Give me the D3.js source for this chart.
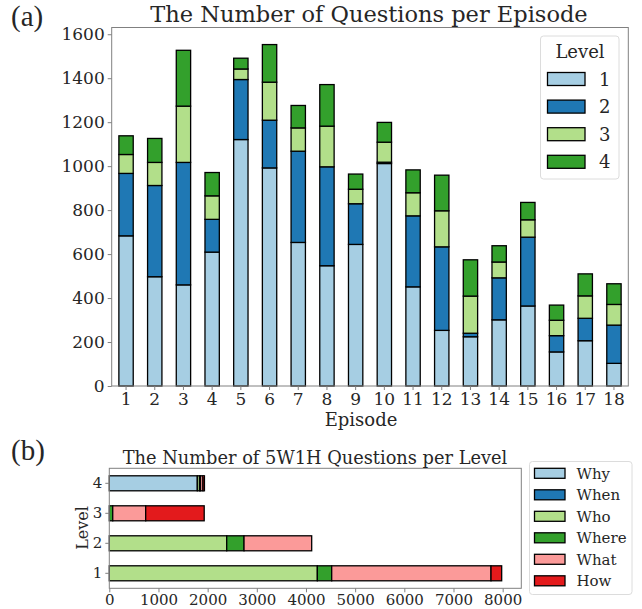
<!DOCTYPE html>
<html>
<head>
<meta charset="utf-8">
<script src="https://d3js.org/d3.v7.min.js"></script>
<style>
  body { margin: 0; background: #fff; }
  text { font-family: "DejaVu Serif", serif; fill: #262626; }
</style>
</head>
<body>
<div id="chart"></div>
<script>
// episodes and per-level question counts (top chart)
var episodes = d3.range(1, 19);
var levels = ["1", "2", "3", "4"];
var level1 = [683, 497, 460, 609, 1121, 992, 653, 547, 644, 1012, 451, 253, 224, 301, 364, 155, 206, 103];
var level2 = [284, 415, 557, 149, 273, 217, 415, 450, 185, 6, 323, 380, 16, 191, 313, 74, 102, 174];
var level3 = [86, 105, 256, 107, 48, 173, 106, 185, 66, 91, 105, 164, 169, 72, 79, 70, 102, 94];
var level4 = [85, 109, 254, 106, 49, 171, 102, 189, 69, 90, 104, 162, 165, 74, 79, 69, 100, 94];
var yTicks = [0, 200, 400, 600, 800, 1000, 1200, 1400, 1600];

// 5W1H counts per level (bottom chart)
var wTypes = ["Why", "When", "Who", "Where", "What", "How"];
var wLevels = ["1", "2", "3", "4"];
var why   = [0, 0, 0, 1790];
var when  = [0, 0, 0, 0];
var who   = [4231, 2388, 0, 45];
var where = [292, 352, 70, 20];
var what  = [3240, 1376, 670, 50];
var how   = [217, 0, 1190, 30];
var xTicks = [0, 1000, 2000, 3000, 4000, 5000, 6000, 7000, 8000];

var paired = ["#a6cee3", "#1f78b4", "#b2df8a", "#33a02c", "#fb9a99", "#e31a1c"];
var axisGrey = "#808080";

var svg = d3.select("#chart").append("svg")
  .attr("width", 642).attr("height", 609);

// ---------- top chart ----------
var rowsA = episodes.map(function(e, i) {
  return {ep: e, "1": level1[i], "2": level2[i], "3": level3[i], "4": level4[i]};
});
var stackA = d3.stack().keys(levels)(rowsA);
var maxA = d3.max(rowsA, function(d) { return d["1"] + d["2"] + d["3"] + d["4"]; });

var A = {left: 111.7, right: 628.3, top: 27.5, bottom: 386};
var xA = d3.scaleBand().domain(episodes).range([A.left, A.right])
  .paddingInner(0.5).paddingOuter(0.25);
var yA = d3.scaleLinear().domain([0, maxA * 1.05]).range([A.bottom, A.top]);
var colA = d3.scaleOrdinal().domain(levels).range(paired.slice(0, 4));

svg.append("g").selectAll("g").data(stackA).join("g")
  .attr("fill", function(d) { return colA(d.key); })
  .selectAll("rect").data(function(d) { return d; }).join("rect")
  .attr("x", function(d) { return xA(d.data.ep); })
  .attr("y", function(d) { return yA(d[1]); })
  .attr("width", xA.bandwidth())
  .attr("height", function(d) { return yA(d[0]) - yA(d[1]); })
  .attr("stroke", "#000").attr("stroke-width", 1.3);

svg.append("rect").attr("x", A.left).attr("y", A.top)
  .attr("width", A.right - A.left).attr("height", A.bottom - A.top)
  .attr("fill", "none").attr("stroke", axisGrey).attr("stroke-width", 1);

var axA = svg.append("g").attr("transform", "translate(0," + A.bottom + ")")
  .call(d3.axisBottom(xA).tickSize(4).tickPadding(3));
var ayA = svg.append("g").attr("transform", "translate(" + A.left + ",0)")
  .call(d3.axisLeft(yA).tickValues(yTicks).tickFormat(d3.format("d")).tickSize(4).tickPadding(3));
[axA, ayA].forEach(function(g) {
  g.select(".domain").remove();
  g.selectAll("line").attr("stroke", axisGrey);
  g.selectAll("text").style("font-size", "17px").attr("fill", "#262626");
});

svg.append("text").attr("x", 369).attr("y", 22).attr("text-anchor", "middle")
  .style("font-size", "22.5px").text("The Number of Questions per Episode");
svg.append("text").attr("x", 361).attr("y", 426).attr("text-anchor", "middle")
  .style("font-size", "18px").text("Episode");
svg.append("text").attr("x", 11).attr("y", 26).style("font-family", "Liberation Serif")
  .style("font-size", "29px").text("(a)");

// legend (a)
var legA = svg.append("g");
legA.append("rect").attr("x", 540.5).attr("y", 36).attr("width", 78.5).attr("height", 143)
  .attr("rx", 3).attr("fill", "#fff").attr("fill-opacity", 0.8).attr("stroke", "#dcdcdc");
legA.append("text").attr("x", 580).attr("y", 58).attr("text-anchor", "middle")
  .style("font-size", "18px").text("Level");
levels.forEach(function(l, i) {
  var cy = 79 + i * 27.6;
  legA.append("rect").attr("x", 547.5).attr("y", cy - 6.5).attr("width", 37.5).attr("height", 13)
    .attr("fill", colA(l)).attr("stroke", "#000").attr("stroke-width", 1.3);
  legA.append("text").attr("x", 599).attr("y", cy + 6.5).style("font-size", "18px").text(l);
});

// ---------- bottom chart ----------
var rowsB = wLevels.map(function(l, i) {
  return {lvl: l, Why: why[i], When: when[i], Who: who[i], Where: where[i], What: what[i], How: how[i]};
});
var stackB = d3.stack().keys(wTypes)(rowsB);
var maxB = d3.max(rowsB, function(d) { return d3.sum(wTypes, function(k) { return d[k]; }); });

var B = {left: 109.3, right: 521.3, top: 468.3, bottom: 588.3};
var xB = d3.scaleLinear().domain([0, maxB * 1.05]).range([B.left, B.right]);
var yB = d3.scaleBand().domain(wLevels).range([B.bottom, B.top])
  .paddingInner(0.5).paddingOuter(0.25);
var colB = d3.scaleOrdinal().domain(wTypes).range(paired);

svg.append("g").selectAll("g").data(stackB).join("g")
  .attr("fill", function(d) { return colB(d.key); })
  .selectAll("rect").data(function(d) { return d.filter(function(s) { return s[1] > s[0]; }); }).join("rect")
  .attr("x", function(d) { return xB(d[0]); })
  .attr("y", function(d) { return yB(d.data.lvl); })
  .attr("width", function(d) { return xB(d[1]) - xB(d[0]); })
  .attr("height", yB.bandwidth())
  .attr("stroke", "#000").attr("stroke-width", 1.3);

svg.append("rect").attr("x", B.left).attr("y", B.top)
  .attr("width", B.right - B.left).attr("height", B.bottom - B.top)
  .attr("fill", "none").attr("stroke", axisGrey).attr("stroke-width", 1);

var axB = svg.append("g").attr("transform", "translate(0," + B.bottom + ")")
  .call(d3.axisBottom(xB).tickValues(xTicks).tickFormat(d3.format("d")).tickSize(4).tickPadding(2));
var ayB = svg.append("g").attr("transform", "translate(" + B.left + ",0)")
  .call(d3.axisLeft(yB).tickSize(4).tickPadding(3));
[axB, ayB].forEach(function(g) {
  g.select(".domain").remove();
  g.selectAll("line").attr("stroke", axisGrey);
  g.selectAll("text").style("font-size", "15px").attr("fill", "#262626");
});

svg.append("text").attr("x", 315).attr("y", 464).attr("text-anchor", "middle")
  .style("font-size", "17.8px").text("The Number of 5W1H Questions per Level");
svg.append("text").attr("transform", "translate(88,528) rotate(-90)").attr("text-anchor", "middle")
  .style("font-size", "16px").text("Level");
svg.append("text").attr("x", 11).attr("y", 460).style("font-family", "Liberation Serif")
  .style("font-size", "29px").text("(b)");

// legend (b)
var legB = svg.append("g");
legB.append("rect").attr("x", 529.5).attr("y", 461.5).attr("width", 102.5).attr("height", 133)
  .attr("rx", 3).attr("fill", "#fff").attr("stroke", "#dcdcdc");
wTypes.forEach(function(w, i) {
  var cy = 473.3 + i * 21.5;
  legB.append("rect").attr("x", 534.5).attr("y", cy - 5).attr("width", 30.5).attr("height", 10)
    .attr("fill", colB(w)).attr("stroke", "#000").attr("stroke-width", 1.3);
  legB.append("text").attr("x", 576.5).attr("y", cy + 5.5).style("font-size", "15px").text(w);
});
</script>
</body>
</html>
